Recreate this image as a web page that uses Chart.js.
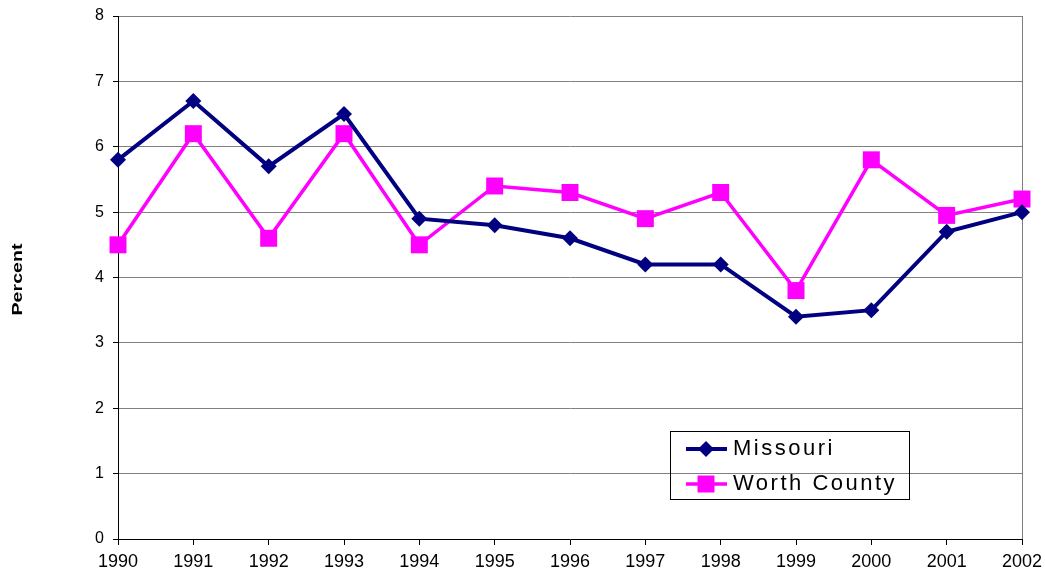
<!DOCTYPE html>
<html>
<head>
<meta charset="utf-8">
<script src="https://cdn.jsdelivr.net/npm/chart.js@4/dist/chart.umd.min.js"></script>
<style>
  html, body { margin: 0; padding: 0; background: #fff; }
  #wrap { width: 1045px; height: 574px; position: relative; }
</style>
</head>
<body>
<div id="wrap"><canvas id="chart"></canvas></div>
<script>
// years along the bottom
const years = ['1990', '1991', '1992', '1993', '1994', '1995', '1996', '1997', '1998', '1999', '2000', '2001', '2002'];
// percent values
const missouri = [5.8, 6.7, 5.7, 6.5, 4.9, 4.8, 4.6, 4.2, 4.2, 3.4, 3.5, 4.7, 5.0];
const worthCounty = [4.5, 6.2, 4.6, 6.2, 4.5, 5.4, 5.3, 4.9, 5.3, 3.8, 5.8, 4.95, 5.2];
const seriesNames = ['Missouri', 'Worth County'];
const yTitle = 'Percent';

const FONT = 'Arial, "Liberation Sans", sans-serif';

// legend box sits inside the plot, drawn by hand (transparent background like the original)
const boxLegend = {
  id: 'boxLegend',
  afterDraw(chart) {
    const ctx = chart.ctx;
    const ds = chart.data.datasets;
    ctx.save();
    ctx.strokeStyle = '#000';
    ctx.lineWidth = 1;
    ctx.strokeRect(670.5, 431.5, 239, 68);
    const rows = [449, 484];
    ds.forEach((d, i) => {
      const y = rows[i];
      ctx.strokeStyle = d.borderColor;
      ctx.lineWidth = d.borderWidth;
      ctx.beginPath();
      ctx.moveTo(686, y);
      ctx.lineTo(727, y);
      ctx.stroke();
      ctx.fillStyle = d.pointBackgroundColor;
      ctx.beginPath();
      if (d.pointStyle === 'rectRot') {
        const r = d.pointRadius;
        ctx.moveTo(706, y - r);
        ctx.lineTo(706 + r, y);
        ctx.lineTo(706, y + r);
        ctx.lineTo(706 - r, y);
        ctx.closePath();
      } else {
        const s = d.pointRadius * Math.SQRT1_2;
        ctx.rect(706 - s, y - s, 2 * s, 2 * s);
      }
      ctx.fill();
      ctx.fillStyle = '#000';
      ctx.font = '22px ' + FONT;
      ctx.letterSpacing = '2.5px';
      ctx.textAlign = 'left';
      ctx.textBaseline = 'middle';
      ctx.fillText(d.label, 733, y);
    });
    ctx.restore();
  }
};

// the y title in the original is stretched along its length, so draw it by hand
const yTitlePlugin = {
  id: 'yTitlePlugin',
  afterDraw(chart) {
    const ctx = chart.ctx;
    const a = chart.chartArea;
    ctx.save();
    ctx.translate(18, (a.top + a.bottom) / 2 + 2);
    ctx.rotate(-Math.PI / 2);
    ctx.scale(1.4, 1);
    ctx.font = 'bold 14px ' + FONT;
    ctx.fillStyle = '#000';
    ctx.textAlign = 'center';
    ctx.textBaseline = 'middle';
    ctx.fillText(yTitle, 0, 0);
    ctx.restore();
  }
};

new Chart(document.getElementById('chart'), {
  type: 'line',
  data: {
    labels: years,
    datasets: [
      {
        label: seriesNames[0],
        data: missouri,
        borderColor: '#000080',
        backgroundColor: '#000080',
        pointBackgroundColor: '#000080',
        pointBorderColor: '#000080',
        borderWidth: 4,
        pointStyle: 'rectRot',
        pointRadius: 8,
        pointBorderWidth: 0,
        tension: 0
      },
      {
        label: seriesNames[1],
        data: worthCounty,
        borderColor: '#ff00ff',
        backgroundColor: '#ff00ff',
        pointBackgroundColor: '#ff00ff',
        pointBorderColor: '#ff00ff',
        borderWidth: 3.5,
        pointStyle: 'rect',
        pointRadius: 12,
        pointBorderWidth: 0,
        tension: 0
      }
    ]
  },
  options: {
    responsive: true,
    maintainAspectRatio: false,
    animation: false,
    events: [],
    layout: { padding: { left: 0, top: 16, right: 23, bottom: 0 } },
    plugins: {
      legend: { display: false },
      tooltip: { enabled: false }
    },
    scales: {
      x: {
        offset: false,
        afterFit(scale) {
          scale.height = 35;
          // don't let label overflow push the plot area around
          scale.paddingLeft = 0;
          scale.paddingRight = 0;
        },
        grid: {
          color: (c) => c.index === years.length - 1 ? '#808080' : 'rgba(0,0,0,0)',
          tickColor: '#000',
          tickLength: 6,
          lineWidth: 1
        },
        border: { display: true, color: '#000', width: 1 },
        ticks: {
          color: '#000',
          font: { family: FONT, size: 18 },
          padding: 6,
          maxRotation: 0,
          autoSkip: false
        }
      },
      y: {
        min: 0,
        max: 8,
        afterFit(scale) {
          scale.width = 118;
          scale.paddingTop = 0;
          scale.paddingBottom = 0;
        },
        grid: {
          color: '#808080',
          tickColor: '#000',
          tickLength: 5,
          lineWidth: 1
        },
        border: { display: true, color: '#000', width: 1 },
        ticks: {
          stepSize: 1,
          color: '#000',
          font: { family: FONT, size: 16 },
          padding: 9
        }
      }
    }
  },
  plugins: [boxLegend, yTitlePlugin]
});
</script>
</body>
</html>
